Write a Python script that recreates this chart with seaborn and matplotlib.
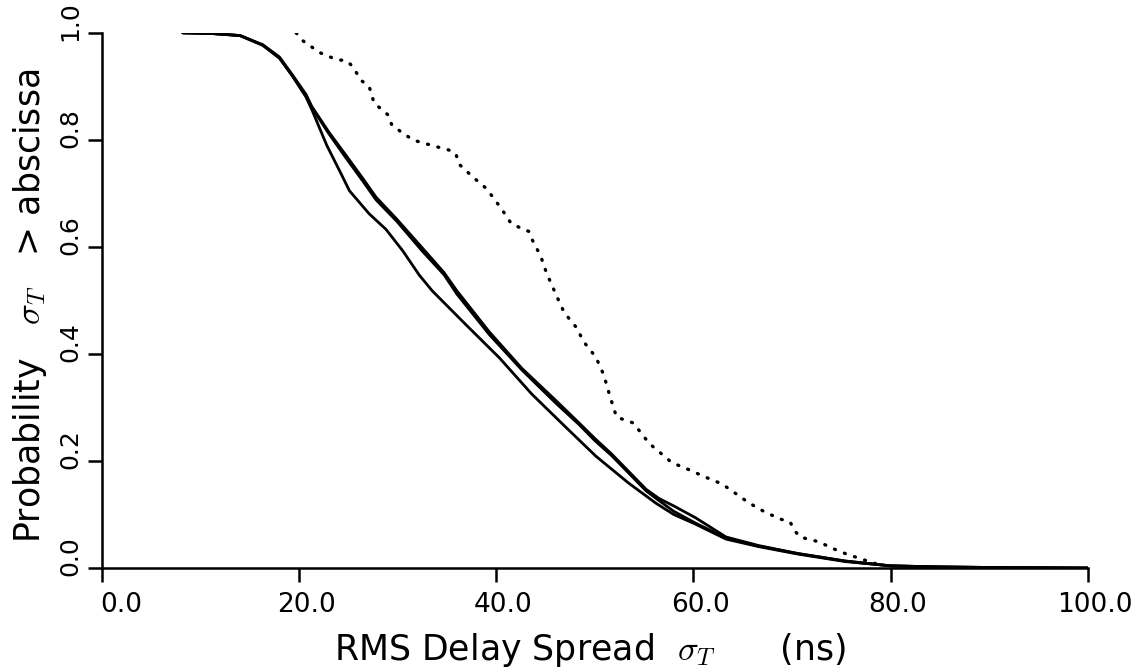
import numpy as np
import pandas as pd
import matplotlib
matplotlib.use("Agg")
import matplotlib.pyplot as plt
import matplotlib.transforms as mtransforms
import seaborn as sns

# ---- data ----
x_a = [8.2, 11, 14, 16.3, 18, 19.3, 20.7, 21.3, 22.8, 24.3, 25.1, 27.1, 28.8, 30.5, 32.2,
       33.5, 36.9, 40.3, 43.6, 47.0, 50.1, 53.4, 56.2, 58.0, 60.2, 63.3, 66.6, 70.6, 75.4,
       80.0, 85.0, 90.0, 100.0]
y_a = [1.0, 0.999, 0.995, 0.977, 0.953, 0.92, 0.88, 0.856, 0.79, 0.735, 0.705, 0.662, 0.633,
       0.593, 0.547, 0.518, 0.455, 0.393, 0.325, 0.264, 0.209, 0.159, 0.121, 0.100, 0.082,
       0.054, 0.040, 0.026, 0.012, 0.004, 0.002, 0.001, 0.0]

x_b = [8.2, 11, 14, 16.3, 18, 19.3, 20.7, 21.3, 23.0, 24.8, 26.5, 27.8, 29.9, 32.5, 34.7,
       36.0, 39.3, 42.6, 46.1, 48.4, 50.0, 51.7, 55.2, 56.5, 58.0, 60.2, 63.3, 66.6, 70.6,
       75.4, 80.0, 85.0, 90.0, 100.0]
y_b = [1.0, 0.999, 0.995, 0.977, 0.953, 0.92, 0.882, 0.86, 0.812, 0.765, 0.722, 0.688, 0.648,
       0.592, 0.548, 0.512, 0.436, 0.370, 0.307, 0.268, 0.238, 0.210, 0.144, 0.126, 0.106,
       0.084, 0.056, 0.041, 0.027, 0.013, 0.004, 0.002, 0.001, 0.0]

x_c = x_b
y_c = [1.0, 0.999, 0.995, 0.978, 0.955, 0.922, 0.885, 0.862, 0.815, 0.770, 0.727, 0.693, 0.652,
       0.598, 0.552, 0.518, 0.441, 0.373, 0.312, 0.271, 0.242, 0.213, 0.147, 0.130, 0.116,
       0.094, 0.058, 0.042, 0.027, 0.013, 0.004, 0.002, 0.001, 0.0]

x_d = [19.7, 20.4, 22.1, 23.8, 24.8, 25.4, 26.3, 27.1, 27.6, 29.0, 29.4, 30.7, 31.7, 33.4,
       35.2, 35.9, 36.2, 37.6, 39.0, 40.5, 41.5, 42.5, 43.3, 43.6, 44.5, 45.1, 46.2, 46.9,
       48.1, 48.9, 50.1, 50.9, 51.4, 51.9, 52.2, 53.9, 55.5, 57.8, 59.5, 61.2, 62.9, 64.3,
       65.6, 67.3, 68.9, 69.8, 70.3, 70.8, 72.7, 74.2, 75.4, 77.0, 79.0]
y_d = [1.0, 0.985, 0.963, 0.95, 0.948, 0.938, 0.911, 0.9, 0.869, 0.847, 0.828, 0.81, 0.799,
       0.79, 0.781, 0.774, 0.755, 0.731, 0.709, 0.672, 0.644, 0.635, 0.629, 0.615, 0.583,
       0.551, 0.505, 0.477, 0.45, 0.422, 0.394, 0.361, 0.329, 0.299, 0.282, 0.271, 0.233,
       0.197, 0.184, 0.17, 0.157, 0.139, 0.122, 0.104, 0.091, 0.086, 0.069, 0.058, 0.049,
       0.036, 0.027, 0.017, 0.005]

x_ticks = [0, 20, 40, 60, 80, 100]
x_tick_labels = ["0.0", "20.0", "40.0", "60.0", "80.0", "100.0"]
y_ticks = [0.0, 0.2, 0.4, 0.6, 0.8, 1.0]
y_tick_labels = ["0.0", "0.2", "0.4", "0.6", "0.8", "1.0"]

x_label = r"RMS Delay Spread  $\sigma_T$      (ns)"
y_label = r"Probability   $\sigma_T$   > abscissa"

# ---- drawing ----
sns.set_style("ticks")
plt.rcParams["font.family"] = ["DejaVu Sans"]
plt.rcParams["mathtext.fontset"] = "cm"
plt.rcParams["text.color"] = "black"
plt.rcParams["axes.labelcolor"] = "black"

fig = plt.figure(figsize=(11.37, 6.71), dpi=100)
ax = fig.add_axes([0.0897, 0.1535, 0.867, 0.7975])

for xs, ys in [(x_a, y_a), (x_b, y_b), (x_c, y_c)]:
    df = pd.DataFrame({"x": xs, "y": ys})
    sns.lineplot(data=df, x="x", y="y", ax=ax, color="black", linewidth=2.0,
                 estimator=None, sort=False)

df_d = pd.DataFrame({"x": x_d, "y": y_d})
sns.lineplot(data=df_d, x="x", y="y", ax=ax, color="black", linewidth=2.4,
             estimator=None, sort=False, linestyle=(0, (0.3, 2.9)),
             dash_capstyle="round")

ax.set_xlim(0, 100)
ax.set_ylim(0, 1)
sns.despine(ax=ax)
for sp in ["left", "bottom"]:
    ax.spines[sp].set_linewidth(1.8)
    ax.spines[sp].set_color("black")

ax.set_xticks(x_ticks)
ax.set_xticklabels(x_tick_labels, fontsize=19)
ax.set_yticks(y_ticks)
ax.set_yticklabels(y_tick_labels, fontsize=18, rotation=90, va="center")
ax.tick_params(axis="both", direction="out", length=10, width=1.8, color="black",
               labelcolor="black")
ax.tick_params(axis="x", pad=7)
ax.tick_params(axis="y", pad=4)

off_x = mtransforms.ScaledTranslation(7 / 100, 0, fig.dpi_scale_trans)
off_x0 = mtransforms.ScaledTranslation(-2 / 100, 0, fig.dpi_scale_trans)
for i, lab in enumerate(ax.get_xticklabels()):
    if i == 0:
        lab.set_ha("left")
        lab.set_transform(lab.get_transform() + off_x0)
    else:
        lab.set_transform(lab.get_transform() + off_x)
off_y = mtransforms.ScaledTranslation(0, 12 / 100, fig.dpi_scale_trans)
for lab in ax.get_yticklabels():
    lab.set_transform(lab.get_transform() + off_y)

ax.set_xlabel(x_label, fontsize=25)
ax.set_ylabel(y_label, fontsize=25)
ax.xaxis.label.set_va("center")
ax.yaxis.label.set_va("center")
ax.xaxis.set_label_coords(0.495, -0.153)
ax.yaxis.set_label_coords(-0.073, 0.49)

fig.savefig("out.png", dpi=100, facecolor="white")
